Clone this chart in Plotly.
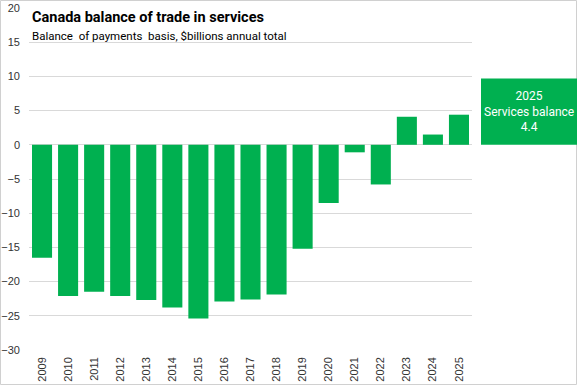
import plotly.graph_objects as go

years = [str(y) for y in range(2009, 2026)]
balance = [-16.5, -22.1, -21.5, -22.1, -22.7, -23.8, -25.4, -22.9, -22.6, -21.9,
           -15.2, -8.5, -1.1, -5.8, 4.1, 1.5, 4.4]
y_ticks = [20, 15, 10, 5, 0, -5, -10, -15, -20, -25, -30]

GREEN = "#00B050"
W, H = 577, 385
ml, mr, mt, mb = 29, 105, 8, 35
pw = W - ml - mr
ph = H - mt - mb

fig = go.Figure(go.Bar(x=years, y=balance, marker_color=GREEN, marker_line_width=0,
                       width=0.77))

fig.update_layout(
    width=W, height=H,
    margin=dict(l=ml, r=mr, t=mt, b=mb, pad=0, autoexpand=False),
    plot_bgcolor="white", paper_bgcolor="white",
    showlegend=False,
    font=dict(family="Liberation Sans, Arial", size=11, color="#333333"),
)
fig.update_xaxes(type="category", tickangle=-90, showgrid=False, showline=False,
                 ticks="", automargin=False, ticklabelstandoff=4,
                 tickfont=dict(size=11, color="#333333"))
fig.update_yaxes(range=[-30, 20], tickvals=y_ticks, showgrid=True, gridcolor="#d9d9d9",
                 gridwidth=1, zeroline=True, zerolinecolor="#d9d9d9", zerolinewidth=1,
                 showline=False, ticks="", ticklabelstandoff=8, automargin=False,
                 tickfont=dict(size=11, color="#333333"))

# outer border
fig.add_shape(type="rect", xref="paper", yref="paper",
              x0=(0.5 - ml) / pw, x1=(W - 0.5 - ml) / pw,
              y0=-(mb - 0.5) / ph, y1=1 + (mt - 0.5) / ph,
              line=dict(color="#d0d0d0", width=1), layer="below")

# callout box
fig.add_shape(type="rect", xref="paper", yref="y",
              x0=(481 - ml) / pw, x1=(577 - ml) / pw, y0=0, y1=9.7,
              fillcolor=GREEN, line_width=0)
fig.add_annotation(xref="paper", yref="y", x=(529 - ml) / pw, y=4.85,
                   xanchor="center", yanchor="middle",
                   text=f"{years[-1]}<br>Services balance<br>{balance[-1]}",
                   showarrow=False, align="center",
                   font=dict(family="Roboto, Liberation Sans", size=12, color="white"))

# titles
fig.add_annotation(xref="paper", yref="paper", x=(30 - ml) / pw, y=1 - (18 - mt) / ph,
                   xanchor="left", yanchor="middle", showarrow=False,
                   text="<b>Canada balance of trade in services</b>",
                   font=dict(family="Roboto, Liberation Sans", size=14.5, color="black"))
fig.add_annotation(xref="paper", yref="paper", x=(30 - ml) / pw, y=1 - (36 - mt) / ph,
                   xanchor="left", yanchor="middle", showarrow=False,
                   text="Balance  of payments  basis, $billions annual total",
                   font=dict(family="Roboto, Liberation Sans", size=11.5, color="black"))

fig.write_html("out.html", config={"displayModeBar": False},
               post_script="document.body.style.margin='0';")
